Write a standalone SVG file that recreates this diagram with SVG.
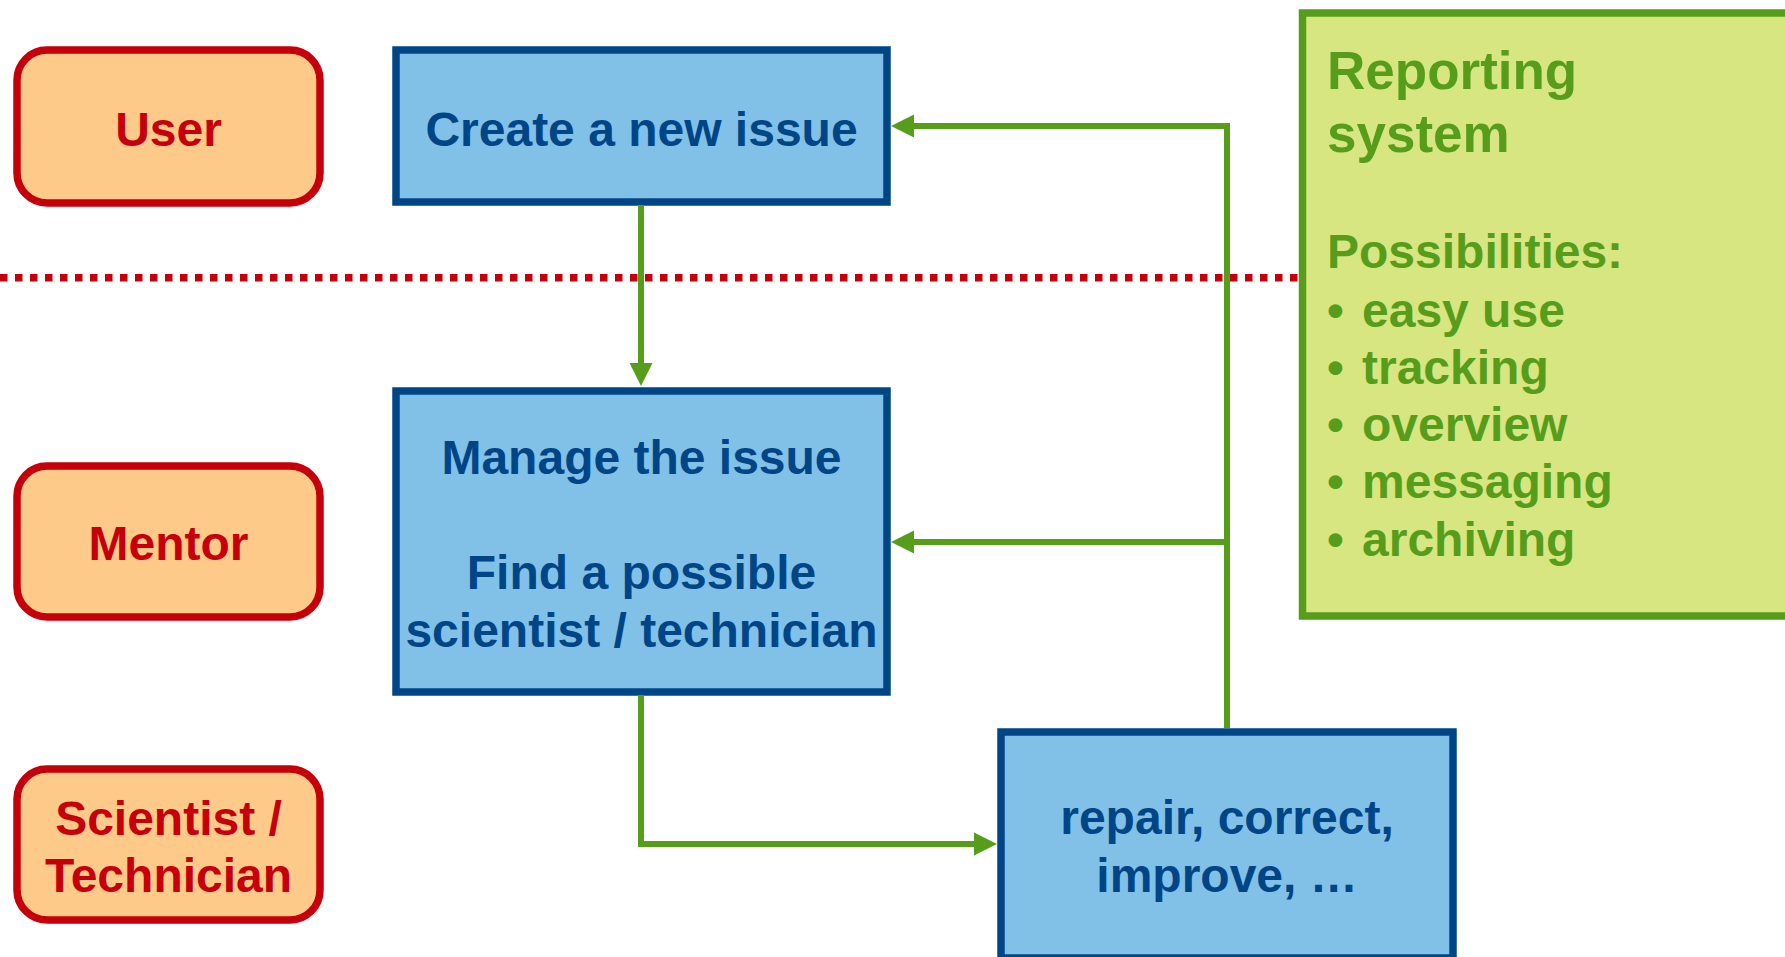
<svg xmlns="http://www.w3.org/2000/svg" width="1785" height="957" viewBox="0 0 1785 957">
<style>
text{font-family:"Liberation Sans",Arial,sans-serif;font-weight:bold;font-size:48px}
.role rect{fill:#FDCA89;stroke:#C5000B;stroke-width:7.5}
.role text{fill:#C5000B;text-anchor:middle}
.step rect{fill:#81C1E7;stroke:#004586;stroke-width:7.5}
.step text{fill:#004586;text-anchor:middle}
.conn{fill:none;stroke:#579D1C;stroke-width:6}
.rep rect{fill:#D7E680;stroke:#579D1C;stroke-width:7.5}
.rep text{fill:#579D1C}
</style>
<defs>
<marker id="ah" markerUnits="userSpaceOnUse" markerWidth="24" markerHeight="24" refX="1" refY="11.5" orient="auto" overflow="visible">
<path d="M0,0 L23,11.5 L0,23 z" fill="#579D1C"/>
</marker>
</defs>
<rect width="1785" height="957" fill="#FFFFFF"/>
<g id="reporting" class="rep">
<rect x="1302.5" y="13" width="500" height="603"/>
<text x="1327" y="89" style="font-size:53px">Reporting</text>
<text x="1327" y="152" style="font-size:53px">system</text>
<text x="1327" y="268">Possibilities:</text>
<text y="327"><tspan x="1327">•</tspan><tspan x="1362">easy use</tspan></text>
<text y="384"><tspan x="1327">•</tspan><tspan x="1362">tracking</tspan></text>
<text y="441"><tspan x="1327">•</tspan><tspan x="1362">overview</tspan></text>
<text y="498"><tspan x="1327">•</tspan><tspan x="1362">messaging</tspan></text>
<text y="556"><tspan x="1327">•</tspan><tspan x="1362">archiving</tspan></text>
</g>
<line id="divider" x1="0" y1="277.8" x2="1299" y2="277.8" stroke="#C5000B" stroke-width="7.5" stroke-dasharray="7.5 7.5"/>
<g id="user" class="role">
<rect x="17" y="50" width="303" height="153" rx="30"/>
<text x="168.5" y="146">User</text>
</g>
<g id="mentor" class="role">
<rect x="17" y="466" width="303" height="151" rx="30"/>
<text x="168.5" y="560">Mentor</text>
</g>
<g id="scientist" class="role">
<rect x="17" y="769" width="303" height="151" rx="30"/>
<text x="168.5" y="835">Scientist /</text>
<text x="168.5" y="892">Technician</text>
</g>
<g id="create" class="step">
<rect x="396" y="50" width="491" height="152"/>
<text x="641.5" y="146">Create a new issue</text>
</g>
<g id="manage" class="step">
<rect x="396" y="391" width="491" height="301"/>
<text x="641.5" y="474">Manage the issue</text>
<text x="641.5" y="589">Find a possible</text>
<text x="641.5" y="647">scientist / technician</text>
</g>
<g id="repair" class="step">
<rect x="1001" y="732" width="452" height="226"/>
<text x="1227" y="834">repair, correct,</text>
<text x="1227" y="892">improve, …</text>
</g>
<g id="connectors">
<path class="conn" d="M641 205 V364" marker-end="url(#ah)"/>
<path class="conn" d="M641 695 V844 H975" marker-end="url(#ah)"/>
<path class="conn" d="M1227 728 V126 H913" marker-end="url(#ah)"/>
<path class="conn" d="M1227 542 H913" marker-end="url(#ah)"/>
</g>
</svg>
